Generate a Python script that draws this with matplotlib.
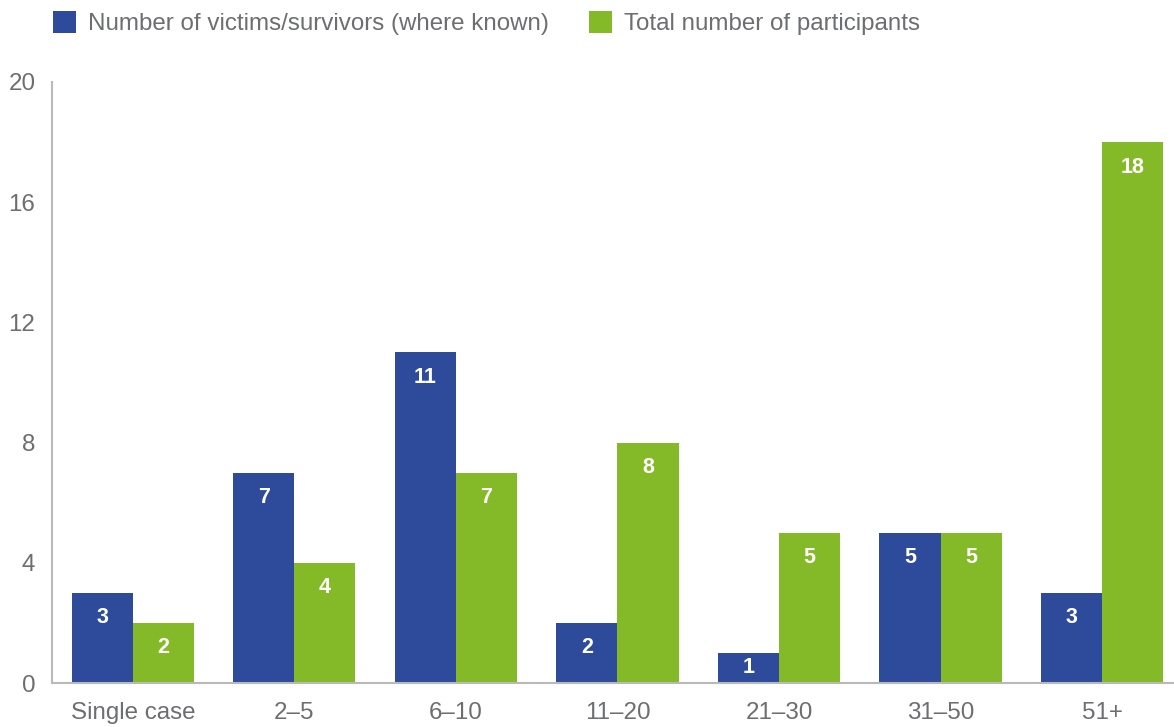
import matplotlib
matplotlib.use("Agg")
import matplotlib.pyplot as plt
import numpy as np

# group sizes and counts per group
categories = ["Single case", "2\u20135", "6\u201310", "11\u201320", "21\u201330", "31\u201350", "51+"]
victims = [3, 7, 11, 2, 1, 5, 3]
participants = [2, 4, 7, 8, 5, 5, 18]
yticks = [0, 4, 8, 12, 16, 20]

BLUE = "#2e4a9a"
GREEN = "#84ba27"
GREY = "#6d6e71"
AXIS = "#b9b9b9"

plt.rcParams["font.family"] = ["Liberation Sans", "DejaVu Sans"]

fig = plt.figure(figsize=(11.74, 7.27), dpi=100)
ax = fig.add_axes([52 / 1174, 1 - 683 / 727, 1 - 52 / 1174, (683 - 82) / 727])

x = np.arange(len(categories))
w = 0.378
b1 = ax.bar(x - w / 2, victims, width=w, color=BLUE,
            label="Number of victims/survivors (where known)")
b2 = ax.bar(x + w / 2, participants, width=w, color=GREEN,
            label="Total number of participants")

# value labels inside the bar tops (centred in very short bars)
px_per_unit = (683 - 82) / 20
for bars, vals in ((b1, victims), (b2, participants)):
    for bar, v in zip(bars, vals):
        off = min(25, v * px_per_unit / 2)
        ax.annotate(str(v), (bar.get_x() + bar.get_width() / 2, v),
                    xytext=(0, -off), textcoords="offset pixels",
                    ha="center", va="center", color="white",
                    fontsize=15.5, fontweight="bold")

ax.set_xlim(-0.5, 6.445)
ax.set_ylim(0, 20)
ax.set_yticks(yticks)
ax.set_xticks(x)
ax.set_xticklabels(categories)
ax.tick_params(axis="both", length=0, labelsize=17.4, labelcolor=GREY)
ax.tick_params(axis="x", pad=14)
ax.tick_params(axis="y", pad=12)

for side in ("top", "right"):
    ax.spines[side].set_visible(False)
for side in ("left", "bottom"):
    ax.spines[side].set_color(AXIS)
    ax.spines[side].set_linewidth(1.5)

leg = fig.legend(handles=[b1, b2], loc="upper left",
                 bbox_to_anchor=(36 / 1174, 1 + 6 / 727), ncol=2, frameon=False,
                 fontsize=17.4, labelcolor=GREY, handlelength=0.95,
                 handleheight=1.0, handletextpad=0.5, columnspacing=1.66,
                 borderaxespad=0.3)

fig.savefig("out.png", dpi=100)
